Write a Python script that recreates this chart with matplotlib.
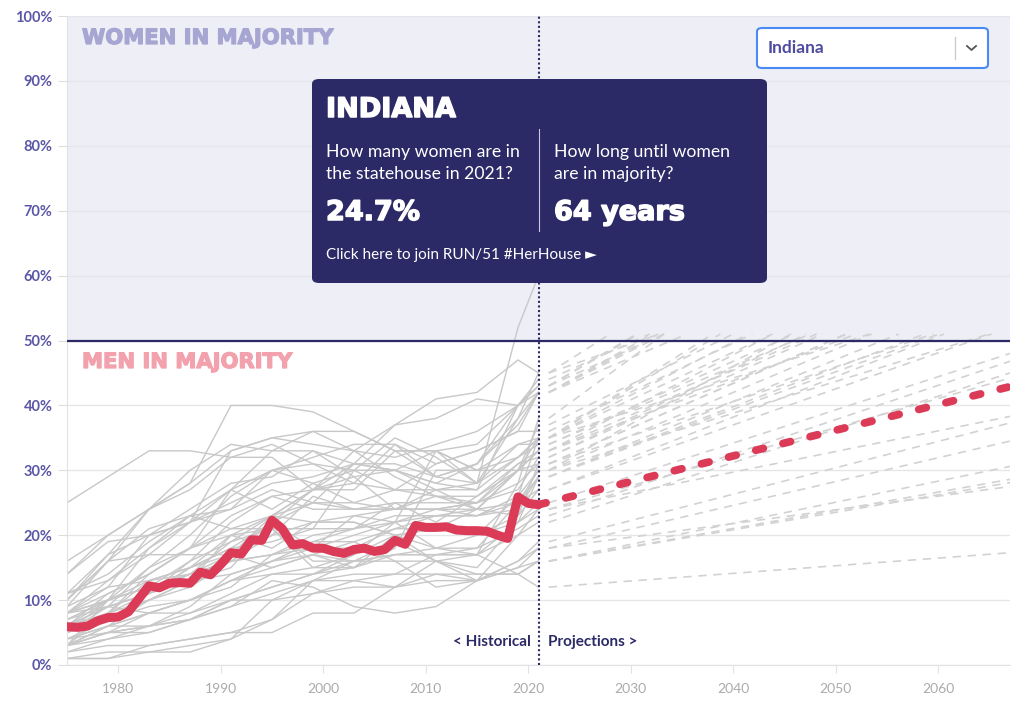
import numpy as np
import matplotlib
matplotlib.use('Agg')
import matplotlib.pyplot as plt
import matplotlib.patheffects as pe
from matplotlib.patches import FancyBboxPatch
from matplotlib.lines import Line2D

# ---- data ----
ind_years = list(range(1975, 2022))
ind_vals = [5.9, 5.8, 6.0, 6.8, 7.3, 7.4, 8.2, 10.2, 12.2, 11.9,
            12.6, 12.7, 12.6, 14.3, 13.9, 15.5, 17.3, 17.1, 19.3, 19.2,
            22.3, 21.0, 18.5, 18.7, 18.0, 18.0, 17.5, 17.2, 17.8, 18.0,
            17.5, 17.8, 19.2, 18.6, 21.5, 21.2, 21.2, 21.3, 20.8, 20.7,
            20.7, 20.6, 20.0, 19.5, 25.9, 24.9, 24.7]
ind_proj_years = [2021, 2067]
ind_proj_vals = [24.7, 42.9]

hist_years = [1975, 1979, 1983, 1987, 1991, 1995, 1999, 2003, 2007, 2011, 2015, 2019, 2021]
states = ['Nevada', 'Colorado', 'Arizona', 'Washington', 'Vermont', 'Maine', 'Maryland',
          'Oregon', 'New Mexico', 'Illinois', 'Rhode Island', 'Delaware', 'Minnesota',
          'New Hampshire', 'Connecticut', 'Michigan', 'Virginia', 'New York', 'Massachusetts',
          'California', 'Idaho', 'Alaska', 'Hawaii', 'Montana', 'Georgia', 'Kansas',
          'Missouri', 'Wisconsin', 'North Carolina', 'Florida', 'Texas', 'Ohio', 'Nebraska',
          'Utah', 'Pennsylvania', 'Iowa', 'South Dakota', 'North Dakota', 'New Jersey',
          'Oklahoma', 'Arkansas', 'Kentucky', 'Alabama', 'Louisiana', 'Mississippi',
          'South Carolina', 'Tennessee', 'Wyoming', 'West Virginia']
hist_vals = [
    [6, 10, 18, 22, 27, 33, 36, 36, 33, 33, 28, 52, 60],
    [10, 16, 24, 28, 33, 35, 34, 33, 37, 41, 42, 47, 45],
    [10, 17, 20, 22, 33, 35, 36, 33, 32, 34, 36, 40, 44],
    [11, 17, 24, 28, 40, 40, 39, 36, 33, 33, 34, 40, 43],
    [16, 20, 24, 30, 34, 33, 33, 31, 37, 38, 41, 40, 42],
    [14, 20, 24, 27, 32, 32, 27, 27, 33, 29, 31, 37, 42],
    [8, 13, 18, 23, 24, 30, 32, 34, 34, 29, 31, 38, 45],
    [10, 16, 21, 23, 27, 24, 28, 30, 30, 28, 31, 40, 43],
    [5, 7, 11, 16, 19, 23, 27, 31, 30, 28, 27, 40, 43],
    [6, 11, 14, 18, 21, 23, 27, 28, 27, 31, 33, 36, 42],
    [7, 10, 12, 16, 22, 26, 27, 29, 24, 27, 28, 38, 42],
    [8, 12, 13, 15, 18, 22, 27, 33, 29, 26, 24, 30, 37],
    [3, 8, 14, 18, 27, 30, 31, 28, 34, 31, 33, 36, 36],
    [25, 29, 33, 33, 32, 34, 31, 30, 35, 32, 28, 34, 35],
    [14, 19, 20, 22, 25, 28, 29, 31, 31, 29, 28, 32, 35],
    [6, 8, 11, 15, 17, 23, 22, 22, 20, 21, 20, 26, 35],
    [3, 6, 8, 10, 13, 14, 14, 16, 17, 17, 17, 28, 38],
    [4, 7, 9, 10, 13, 16, 19, 21, 25, 22, 26, 30, 35],
    [5, 8, 10, 13, 15, 22, 25, 24, 25, 25, 25, 28, 31],
    [3, 10, 13, 15, 20, 21, 21, 30, 27, 26, 26, 31, 32],
    [7, 10, 15, 20, 26, 30, 28, 25, 24, 26, 25, 30, 33],
    [11, 13, 17, 17, 17, 22, 18, 20, 22, 33, 30, 32, 35],
    [9, 16, 17, 22, 24, 27, 25, 31, 30, 33, 30, 34, 34],
    [8, 11, 14, 18, 20, 23, 25, 25, 27, 27, 27, 32, 34],
    [4, 6, 8, 10, 12, 17, 19, 19, 21, 23, 24, 30, 33],
    [9, 12, 20, 24, 28, 29, 33, 29, 30, 27, 24, 30, 30],
    [6, 9, 11, 15, 18, 19, 21, 21, 23, 23, 23, 24, 29],
    [5, 9, 15, 18, 23, 26, 24, 24, 24, 24, 25, 27, 32],
    [5, 8, 13, 14, 16, 17, 18, 23, 24, 24, 23, 25, 27],
    [5, 10, 12, 14, 17, 20, 26, 24, 24, 24, 25, 31, 33],
    [4, 6, 6, 9, 14, 16, 18, 18, 21, 21, 20, 23, 27],
    [5, 7, 10, 12, 16, 20, 22, 23, 22, 23, 23, 26, 30],
    [3, 6, 10, 13, 20, 18, 22, 22, 20, 18, 20, 22, 29],
    [3, 5, 8, 10, 13, 15, 17, 15, 20, 16, 15, 22, 25],
    [3, 4, 5, 7, 9, 11, 13, 14, 14, 17, 18, 25, 30],
    [8, 10, 12, 14, 16, 17, 20, 21, 22, 24, 24, 25, 29],
    [7, 9, 11, 14, 19, 21, 15, 17, 20, 21, 24, 23, 31],
    [8, 9, 11, 13, 14, 16, 17, 16, 17, 18, 18, 21, 23],
    [6, 9, 8, 8, 11, 14, 15, 15, 18, 30, 30, 30, 31],
    [2, 4, 6, 8, 10, 10, 11, 13, 12, 13, 13, 20, 22],
    [3, 5, 5, 7, 10, 12, 14, 17, 22, 18, 17, 20, 24],
    [2, 3, 3, 4, 5, 7, 11, 12, 12, 16, 17, 22, 24],
    [1, 1, 3, 4, 5, 5, 8, 8, 12, 14, 13, 15, 18],
    [1, 1, 2, 3, 4, 7, 13, 16, 16, 12, 13, 16, 19],
    [1, 2, 2, 2, 4, 10, 13, 13, 14, 14, 14, 14, 16],
    [3, 5, 6, 7, 9, 13, 12, 9, 8, 9, 13, 15, 16],
    [4, 5, 6, 7, 10, 12, 14, 15, 17, 17, 17, 14, 16],
    [11, 14, 19, 23, 21, 21, 16, 16, 19, 16, 13, 16, 18],
    [8, 10, 12, 13, 17, 15, 17, 19, 16, 16, 14, 14, 12],
]
# projected share in 2067 (None = already in majority)
proj_2067 = [None, 70, 76, 75, 72, 78, 90, 84, 85, 80, 82, 72, 70,
             58, 68, 78, 90, 80, 62, 66, 60, 72, 66, 64, 70, 52,
             58, 64, 55, 64, 52, 60, 56, 48, 70, 55, 55, 46.8, 62,
             45, 44.2, 38.3, 34.5, 37.3, 30.6, 28.6, 28.1, 27.5, 17.3]

yticks = [0, 10, 20, 30, 40, 50, 60, 70, 80, 90, 100]
xticks = [1980, 1990, 2000, 2010, 2020, 2030, 2040, 2050, 2060]

NAVY = '#2b2966'
RED = '#dc3b58'
W, H = 1024, 705

def fx(x):
    return x / W

def fy(y):
    return 1 - y / H

def heavy(color, w=0.9):
    # thicken DejaVu bold a little to look like a black weight
    return [pe.withStroke(linewidth=w, foreground=color)]

fig = plt.figure(figsize=(W / 100, H / 100), dpi=100)
ax = fig.add_axes([fx(67), fy(665), fx(1010) - fx(67), fy(16) - fy(665)])
ax.set_xlim(1975, 2067)
ax.set_ylim(0, 100)

ax.axhspan(50, 100, color='#eeeef7', zorder=0, lw=0)
for t in yticks:
    ax.axhline(t, color='#e6e6ea', lw=1, zorder=0.5)

# other states
for vals, pend in zip(hist_vals, proj_2067):
    ax.plot(hist_years, vals, color='#c8c8c8', lw=1, zorder=1, solid_joinstyle='round')
    if pend is None:
        continue
    v0 = vals[-1]
    if pend > 51:
        t_end = 2022 + (51 - v0) / (pend - v0) * (2067 - 2022)
        ax.plot([2022, t_end], [v0, 51], color='#d2d2d2', lw=1.2, ls=(0, (5, 4)), zorder=1)
    else:
        ax.plot([2022, 2067], [v0, pend], color='#d2d2d2', lw=1.2, ls=(0, (5, 4)), zorder=1)

ax.axhline(50, color=NAVY, lw=1.6, zorder=3)
ax.axvline(2021, color=NAVY, lw=1.5, ls=(0, (1, 1.2)), zorder=3)

# Indiana
ax.plot(ind_years, ind_vals, color=RED, lw=6.5, solid_capstyle='round',
        solid_joinstyle='round', zorder=5)
ax.plot(ind_proj_years, ind_proj_vals, color=RED, lw=5.6, ls=(0, (1.0, 2.6)),
        dash_capstyle='round', zorder=5)

ax.set_yticks(yticks)
ax.set_yticklabels([f'{t}%' for t in yticks])
ax.set_xticks(xticks)
for s in ['top', 'right']:
    ax.spines[s].set_visible(False)
ax.spines['left'].set_color('#e2e2e2')
ax.spines['bottom'].set_color('#e2e2e2')
ax.tick_params(axis='y', length=6.5, color='#dddddd', pad=4, labelsize=10.5, labelcolor='#5b57a6')
ax.tick_params(axis='x', length=6, color='#e2e2e2', pad=7, labelsize=10, labelcolor='#ababab')
for lab in ax.get_yticklabels():
    lab.set_fontfamily('Lato')
    lab.set_fontweight('bold')
for lab in ax.get_xticklabels():
    lab.set_fontfamily('Lato')

# section labels
fig.text(fx(82), fy(38), 'WOMEN IN MAJORITY', color='#a7a5d2', fontsize=15.2,
         fontweight='heavy', va='center', ha='left', path_effects=heavy('#a7a5d2'))
fig.text(fx(82), fy(362), 'MEN IN MAJORITY', color='#f2a1ad', fontsize=15.2,
         fontweight='heavy', va='center', ha='left', path_effects=heavy('#f2a1ad'))
fig.text(fx(531), fy(642), '< Historical', color=NAVY, fontsize=11, fontweight='bold',
         family='Lato', ha='right', va='center')
fig.text(fx(548), fy(642), 'Projections >', color=NAVY, fontsize=11, fontweight='bold',
         family='Lato', ha='left', va='center')

# tooltip
box = FancyBboxPatch((fx(312), fy(283)), fx(767) - fx(312), fy(79) - fy(283),
                     boxstyle='round,pad=0,rounding_size=0.007', transform=fig.transFigure,
                     facecolor=NAVY, edgecolor='none', zorder=10)
fig.patches.append(box)
fig.text(fx(326), fy(110), 'INDIANA', color='white', fontsize=19.5, fontweight='heavy',
         va='center', ha='left', zorder=11, path_effects=heavy('white', 1.1))
fig.text(fx(326), fy(163), 'How many women are in\nthe statehouse in 2021?', color='white',
         fontsize=12.7, family='Lato', va='center', ha='left', linespacing=1.4, zorder=11)
fig.text(fx(554), fy(163), 'How long until women\nare in majority?', color='white',
         fontsize=12.7, family='Lato', va='center', ha='left', linespacing=1.4, zorder=11)
fig.text(fx(326), fy(213), '24.7%', color='white', fontsize=19.5, fontweight='heavy',
         va='center', ha='left', zorder=11, path_effects=heavy('white', 1.1))
fig.text(fx(554), fy(213), '64 years', color='white', fontsize=19.5, fontweight='heavy',
         va='center', ha='left', zorder=11, path_effects=heavy('white', 1.1))
fig.text(fx(326), fy(255), 'Click here to join RUN/51 #HerHouse \u25ba', color='white',
         fontsize=11, family=['Lato', 'DejaVu Sans'], va='center', ha='left', zorder=11)
fig.lines.append(Line2D([fx(539), fx(539)], [fy(129), fy(231)], transform=fig.transFigure,
                        color='#c9c8e0', lw=0.8, zorder=11))

# dropdown
dd = FancyBboxPatch((fx(757), fy(68)), fx(988) - fx(757), fy(28) - fy(68),
                    boxstyle='round,pad=0,rounding_size=0.005', transform=fig.transFigure,
                    facecolor='white', edgecolor='#4a8af4', lw=1.5, zorder=10)
fig.patches.append(dd)
fig.text(fx(768), fy(48), 'Indiana', color='#4f4c9e', fontsize=12.5, fontweight='bold',
         family='Lato', va='center', ha='left', zorder=11)
fig.lines.append(Line2D([fx(955), fx(955)], [fy(37), fy(59)], transform=fig.transFigure,
                        color='#cccccc', lw=1, zorder=11))
fig.lines.append(Line2D([fx(967), fx(971.5), fx(976)], [fy(46), fy(50), fy(46)],
                        transform=fig.transFigure, color='#555555', lw=1.3, zorder=11))

fig.savefig('out.png', dpi=100, facecolor='white')
